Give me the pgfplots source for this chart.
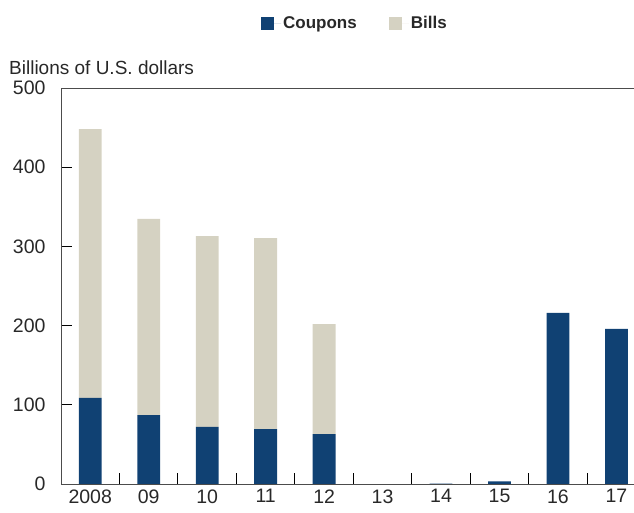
\documentclass[border=0pt]{standalone}
\usepackage{fontspec}
\setmainfont{Liberation Sans}
\usepackage{pgfplots}
\pgfplotsset{compat=1.18}
\definecolor{coup}{RGB}{16,65,115}
\definecolor{bill}{RGB}{213,210,194}
\definecolor{txt}{RGB}{40,40,40}
\begin{document}
\begin{tikzpicture}
\path[use as bounding box] (-61pt,-29pt) rectangle (573pt,484pt);
\begin{axis}[
 scale only axis, width=573pt, height=396pt,
 at={(0pt,0pt)}, anchor=south west,
 xmin=-0.5, xmax=9.3, ymin=0, ymax=500,
 ybar stacked, bar width=0.39,
 axis x line=box, axis y line=left,
 x axis line style={-}, y axis line style={-},
 axis line style={black!70, line width=0.9pt},
 xtick={0.5,1.5,...,8.5}, xticklabels={},
 extra x ticks={0,1,2,3,4,5,6,7,8,9},
 extra x tick labels={2008,09,10,11,12,13,14,15,16,17},
 extra x tick style={major tick length=0pt},
 xtick pos=left, ytick pos=left,
 tick align=inside,
 major tick length=11pt,
 tick style={black, line width=0.9pt},
 ytick={0,100,...,500},
 /pgf/number format/assume math mode=true,
 ticklabel style={font=\fontsize{19.5}{22}\selectfont, text=txt},
 yticklabel style={xshift=-12pt},
 xticklabel style={yshift=-2pt},
 legend style={at={(0.513,1.163)}, anchor=center, draw=none, fill=none,
   legend columns=2, font=\bfseries\fontsize{17}{20}\selectfont, text=txt,
   /tikz/every even column/.append style={column sep=30pt}},
 legend image code/.code={\path (0pt,0pt) -- (20pt,0pt); \fill[#1] (0pt,-6.5pt) rectangle (13pt,6.5pt);},
]
\addplot[fill=coup, draw=none] coordinates {(0,108.6) (1,87) (2,72) (3,69.4) (4,63) (5,0) (6,0.6) (7,3.4) (8,216) (9,196)};
\addplot[fill=bill, draw=none] coordinates {(0,339.4) (1,247.6) (2,241) (3,241.2) (4,139) (5,0) (6,0) (7,0) (8,0) (9,0)};
\legend{Coupons, Bills}
\end{axis}
\node[anchor=base west, text=txt, font=\fontsize{19}{22}\selectfont, inner sep=0pt] at (-52pt,409pt) {Billions of U.S. dollars};
\end{tikzpicture}
\end{document}
